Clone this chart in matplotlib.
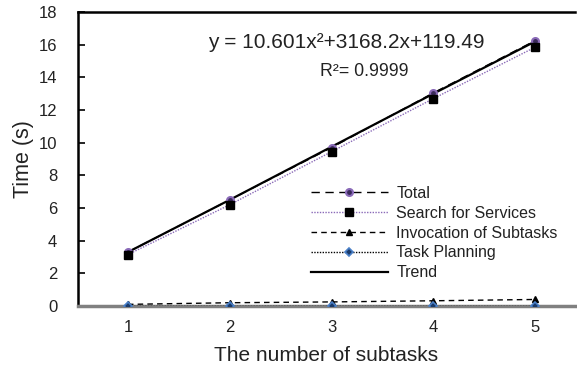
import matplotlib
matplotlib.use("Agg")
import matplotlib.pyplot as plt

plt.rcParams['font.family'] = ['Liberation Sans', 'DejaVu Sans']

subtasks = [1, 2, 3, 4, 5]
total = [3.3, 6.5, 9.7, 13.05, 16.25]
search = [3.15, 6.2, 9.45, 12.7, 15.85]
invocation = [0.1, 0.2, 0.25, 0.32, 0.4]
planning = [0.02, 0.02, 0.02, 0.02, 0.02]
trend = [3.3, 6.5, 9.75, 13.0, 16.2]
xticks = [1, 2, 3, 4, 5]
yticks = [0, 2, 4, 6, 8, 10, 12, 14, 16, 18]

W, H = 577, 370
fig = plt.figure(figsize=(W/100, H/100), dpi=100)
ax = fig.add_axes([78/W, 1-306/H, (575-78)/W, (306-12)/H])

ax.plot(subtasks, total, linestyle=(0, (6, 4)), color='black', linewidth=1,
        marker='o', markersize=5, markerfacecolor='#3a2a5a', markeredgecolor='#8a6ab8',
        markeredgewidth=1.5, label='Total', zorder=3)
ax.plot(subtasks, search, linestyle=(0, (1, 1)), color='#8a6ab8', linewidth=1,
        marker='s', markersize=6, markerfacecolor='black', markeredgecolor='black',
        label='Search for Services', zorder=3)
ax.plot(subtasks, invocation, linestyle=(0, (4, 3)), color='black', linewidth=1,
        marker='^', markersize=4, markerfacecolor='black', markeredgecolor='black',
        label='Invocation of Subtasks', zorder=3)
ax.plot(subtasks, planning, linestyle=(0, (1, 1)), color='black', linewidth=1,
        marker='D', markersize=4, markerfacecolor='#1a3a6a', markeredgecolor='#4a80c8',
        markeredgewidth=1.2, label='Task Planning', zorder=4)
ax.plot(subtasks, trend, linestyle='-', color='black', linewidth=1.6,
        label='Trend', zorder=2)

ax.set_xlim(0.51, 5.39)
ax.set_ylim(0, 18)
ax.set_xticks(xticks)
ax.set_yticks(yticks)
ax.tick_params(axis='y', direction='in', length=5, width=1.2, labelsize=12, pad=15,
               labelcolor='#222222')
ax.tick_params(axis='x', length=0, labelsize=12, pad=10, labelcolor='#222222')

ax.spines['right'].set_visible(False)
ax.spines['left'].set_linewidth(1.8)
ax.spines['top'].set_linewidth(1.8)
ax.spines['bottom'].set_color('#808080')
ax.spines['bottom'].set_linewidth(2.5)

ax.set_xlabel('The number of subtasks', fontsize=15, labelpad=8, color='#222222')
ax.set_ylabel('Time (s)', fontsize=15.5, labelpad=3, color='#222222')

ax.text(130/497, 0.895, 'y = 10.601x²+3168.2x+119.49', transform=ax.transAxes,
        ha='left', va='center', fontsize=15, color='#222222')
ax.text(242/497, 0.796, 'R²= 0.9999', transform=ax.transAxes,
        ha='left', va='center', fontsize=12.8, color='#222222')

leg = ax.legend(loc='upper left', bbox_to_anchor=(311/W, 1-186/H),
                bbox_transform=fig.transFigure, frameon=False, borderpad=0,
                borderaxespad=0, fontsize=11.5, handlelength=4.8, handletextpad=0.55,
                labelspacing=0.3)
for t in leg.get_texts():
    t.set_color('#222222')

fig.savefig('out.png', dpi=100)
